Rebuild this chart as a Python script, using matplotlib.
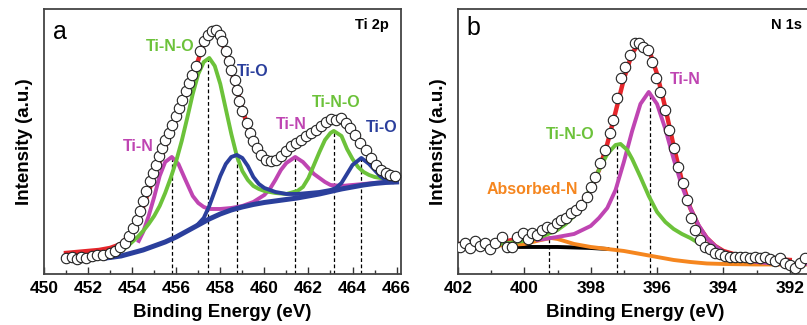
import matplotlib.pyplot as plt
from matplotlib.ticker import MultipleLocator

plt.rcParams['font.family'] = ['Liberation Sans', 'DejaVu Sans']

GREEN = '#6cc23a'
MAGENTA = '#bf45b2'
BLUE = '#2b3f9c'
RED = '#e6262b'
ORANGE = '#f5861f'

# ---- (a) Ti 2p : measured points ----
ti_data_e = [451.0, 451.26, 451.5, 451.7, 451.9, 452.2, 452.4, 452.7, 453.0, 453.2,
             453.45, 453.67, 453.87, 454.05, 454.2, 454.35, 454.5, 454.65, 454.8, 454.95,
             455.1, 455.2, 455.37, 455.5, 455.67, 455.8, 455.98, 456.13, 456.28, 456.43,
             456.58, 456.73, 456.9, 457.06, 457.24, 457.44, 457.64, 457.8, 457.97, 458.1,
             458.25, 458.4, 458.5, 458.65, 458.76, 458.87, 459.0, 459.2, 459.36, 459.5,
             459.65, 459.85, 460.08, 460.3, 460.53, 460.75, 461.0, 461.2, 461.44, 461.67,
             461.9, 462.1, 462.35, 462.58, 462.8, 463.03, 463.25, 463.48, 463.7, 463.9,
             464.1, 464.35, 464.6, 464.82, 465.05, 465.27, 465.5, 465.72, 465.95]
ti_data_h = [16, 17, 15, 17, 16, 18, 19, 19, 21, 23,
             27, 31, 38, 46, 54, 63, 73, 83, 93, 101,
             109, 118, 126, 134, 141, 149, 158, 166, 174, 183,
             191, 199, 208, 223, 233, 239, 243, 244, 239, 233,
             223, 213, 204, 194, 184, 173, 163, 151, 141, 133,
             126, 119, 114, 113, 114, 118, 123, 128, 131, 134,
             138, 141, 144, 148, 152, 155, 154, 156, 151, 146,
             139, 131, 124, 116, 109, 104, 101, 99, 98]

# envelope of the fit
ti_fit_e = [451.0, 451.5, 452.0, 452.5, 453.0, 453.5, 454.0, 454.5, 455.0, 455.5,
            456.0, 456.5, 457.0, 457.25, 457.5, 457.75, 458.0, 458.25, 458.5, 458.75,
            459.0, 459.25, 459.5, 459.75, 460.0, 460.25, 460.5, 460.75, 461.0, 461.5,
            462.0, 462.5, 463.0, 463.25, 463.5, 463.75, 464.0, 464.5, 465.0, 465.5, 466.0]
ti_fit_h = [21, 22, 23, 24, 26, 30, 42, 67, 98, 127,
            155, 183, 214, 232, 241, 243, 236, 222, 204, 185,
            165, 147, 133, 122, 116, 113, 114, 118, 123, 131,
            139, 146, 153, 155, 155, 150, 143, 128, 111, 101, 97]

# Shirley background
ti_bg_e = [452.8, 453.0, 453.5, 454.0, 454.5, 455.0, 455.5, 456.0, 456.5, 457.0,
           457.5, 458.0, 458.5, 459.0, 459.5, 460.0, 460.5, 461.0, 461.5, 462.0,
           462.5, 463.0, 463.5, 464.0, 464.5, 465.0, 465.5, 466.0]
ti_bg_h = [16, 16.5, 18, 21, 24, 28, 32, 37, 43, 49,
           55, 60, 64, 67, 69.5, 71.5, 73, 74.5, 76, 78,
           80, 82.5, 85, 87, 89, 90.5, 91.5, 92]

# Ti-N component (2p3/2 + 2p1/2)
ti_n_e = [454.3, 454.5, 454.75, 455.0, 455.25, 455.5, 455.8, 456.1, 456.4, 456.75,
          457.0, 457.25, 457.5, 458.0, 458.5, 459.0, 459.5, 460.0, 460.25, 460.5,
          460.75, 461.0, 461.4, 461.75, 462.0, 462.25, 462.5, 462.75, 463.0, 463.5,
          464.0, 464.5, 465.0, 465.5, 465.9]
ti_n_h = [33, 42, 58, 77, 98, 112, 117, 110, 95, 78,
          71, 67, 65, 65, 66, 68, 72, 79, 85, 94,
          104, 111, 117, 112, 106, 100, 96, 92, 89, 88,
          89, 90, 91, 92, 92]

# Ti-N-O component
ti_no_e = [452.85, 453.25, 453.5, 453.75, 454.0, 454.25, 454.5, 454.75, 455.0, 455.25,
           455.5, 455.75, 456.0, 456.25, 456.5, 456.75, 457.0, 457.25, 457.5, 457.75,
           458.0, 458.25, 458.5, 458.75, 459.0, 459.25, 459.5, 459.75, 460.0, 460.5,
           461.0, 461.5, 461.75, 462.0, 462.25, 462.5, 462.75, 463.0, 463.15, 463.5,
           463.75, 464.0, 464.25, 464.5, 464.75, 465.0, 465.5, 465.8]
ti_no_h = [18, 20, 23, 27, 32, 37, 43, 50, 58, 68,
           81, 96, 113, 133, 156, 180, 200, 212, 216, 208,
           190, 165, 140, 118, 103, 94, 88, 85, 83, 81,
           80, 83, 87, 96, 109, 122, 134, 141, 143, 138,
           125, 115, 107, 102, 99, 97, 95, 94]

# Ti-O component
ti_o_e = [457.0, 457.25, 457.5, 457.75, 458.0, 458.25, 458.5, 458.75, 459.0, 459.25,
          459.5, 459.75, 460.0, 460.5, 461.0, 461.5, 462.0, 462.5, 463.0, 463.25,
          463.5, 463.75, 464.0, 464.4, 464.75, 465.0, 465.25, 465.5, 465.8]
ti_o_h = [50, 56, 68, 83, 98, 110, 117, 119, 116, 108,
          97, 90, 86, 82, 80, 80, 81, 82, 84, 86,
          91, 100, 109, 116, 110, 104, 98, 94, 92]

ti_peak_e = [455.8, 457.45, 458.75, 461.4, 463.15, 464.4]
ti_peak_h = [117, 216, 119, 117, 143, 116]

# ---- (b) N 1s ----
n_data_e = [401.94, 401.79, 401.64, 401.49, 401.34, 401.19, 401.04, 400.89, 400.68, 400.53,
            400.38, 400.23, 400.03, 399.88, 399.78, 399.63, 399.48, 399.33, 399.18, 399.03,
            398.88, 398.73, 398.58, 398.43, 398.28, 398.12, 398.0, 397.87, 397.72, 397.57,
            397.42, 397.32, 397.22, 397.1, 396.97, 396.82, 396.67, 396.54, 396.42, 396.27,
            396.14, 396.02, 395.9, 395.77, 395.63, 395.49, 395.36, 395.23, 395.11, 394.99,
            394.86, 394.71, 394.56, 394.41, 394.26, 394.11, 393.96, 393.81, 393.66, 393.51,
            393.36, 393.2, 393.05, 392.9, 392.75, 392.6, 392.45, 392.3, 392.15, 392.0,
            391.85, 391.7, 391.55]
n_data_h = [27, 31, 26, 33, 28, 31, 25, 31, 37, 27,
            27, 37, 41, 35, 41, 39, 44, 47, 46, 51,
            54, 56, 61, 64, 69, 77, 87, 97, 111, 124,
            141, 154, 176, 196, 207, 219, 231, 231, 227, 224,
            212, 196, 182, 164, 144, 126, 107, 91, 74, 56,
            44, 34, 27, 25, 21, 20, 18, 17, 17, 17,
            17, 16, 17, 16, 17, 15, 13, 16, 11, 9,
            6, 11, 16]

n_fit_e = [402.0, 401.0, 400.5, 400.0, 399.5, 399.0, 398.5, 398.25, 398.0, 397.75,
           397.5, 397.25, 397.0, 396.75, 396.5, 396.25, 396.0, 395.75, 395.5, 395.25,
           395.0, 394.75, 394.5, 394.25, 394.0, 393.5, 393.0, 392.5, 392.0]
n_fit_h = [30, 31, 33, 37, 42, 50, 62, 71, 84, 104,
           130, 162, 195, 221, 232, 225, 200, 166, 128, 93,
           66, 48, 36, 28, 23, 18, 16, 15, 14]

n_bg_e = [400.3, 400.0, 399.5, 399.0, 398.5, 398.0, 397.5]
n_bg_h = [27, 27, 27, 27, 26.5, 26, 25]

# absorbed N
n_abs_e = [402.0, 401.0, 400.0, 399.5, 399.2, 399.0, 398.5, 398.0, 397.5, 397.0,
           396.5, 396.0, 395.5, 395.0, 394.5, 394.0, 393.0, 392.0, 391.5]
n_abs_h = [28, 28, 30, 34, 36, 35, 30, 27, 25, 23,
           20, 17, 14, 12, 10.5, 10, 9.5, 9.5, 9.5]

# Ti-N-O
n_tino_e = [402.0, 401.0, 400.5, 400.0, 399.5, 399.0, 398.75, 398.5, 398.25, 398.0,
            397.75, 397.5, 397.25, 397.1, 396.9, 396.75, 396.5, 396.25, 396.0, 395.75,
            395.5, 395.25, 395.0, 394.75, 394.5, 394.25, 394.0]
n_tino_h = [28, 29, 31, 33, 37, 44, 50, 58, 70, 86,
            104, 120, 129, 130, 124, 115, 97, 78, 62, 52,
            45, 40, 36, 31, 27, 24, 21]

# Ti-N
n_tin_e = [399.6, 399.0, 398.5, 398.0, 397.75, 397.5, 397.25, 397.0, 396.75, 396.5,
           396.25, 396.0, 395.75, 395.5, 395.25, 395.0, 394.75, 394.5, 394.25, 394.0,
           393.75, 393.5, 393.0, 392.5, 392.0, 391.5]
n_tin_h = [34, 37, 40, 48, 56, 66, 84, 112, 143, 170,
           182, 170, 145, 115, 88, 66, 49, 36, 28, 22,
           18, 15, 12, 10.5, 10, 10]

n_peak_e = [399.25, 397.2, 396.2]
n_peak_h = [36, 130, 182]


def style_axes(ax, xlim, ticks):
    ax.set_xlim(*xlim)
    ax.set_ylim(0, 265)
    ax.set_xticks(ticks)
    ax.xaxis.set_minor_locator(MultipleLocator(1))
    ax.set_yticks([])
    ax.tick_params(axis='x', which='major', direction='in', length=5, width=1,
                   labelsize=12.5, pad=5, colors='#333333', labelcolor='black')
    ax.tick_params(axis='x', which='minor', direction='in', length=3, width=1,
                   colors='#333333')
    for lab in ax.get_xticklabels():
        lab.set_fontweight('bold')
    for sp in ax.spines.values():
        sp.set_color('#444444')
        sp.set_linewidth(1.3)
    ax.set_xlabel('Binding Energy (eV)', fontsize=13.5, fontweight='bold', labelpad=6)
    ax.set_ylabel('Intensity (a.u.)', fontsize=13.5, fontweight='bold', labelpad=8)


fig = plt.figure(figsize=(8.07, 3.25), dpi=100)
ax_a = fig.add_axes([0.0545, 0.157, 0.4424, 0.8154])
ax_b = fig.add_axes([0.5675, 0.157, 0.4399, 0.8154])

lw = 2.8
mk = dict(marker='o', ms=7.5, mfc='white', mec='#222222', mew=0.8, ls='none', zorder=6)

# panel a
ax_a.vlines(ti_peak_e, 0, ti_peak_h, colors='black', linestyles=(0, (3, 2)), lw=0.9, zorder=1)
ax_a.plot(ti_fit_e, ti_fit_h, color=RED, lw=lw + 0.4, zorder=2)
ax_a.plot(ti_n_e, ti_n_h, color=MAGENTA, lw=lw, zorder=3)
ax_a.plot(ti_no_e, ti_no_h, color=GREEN, lw=lw, zorder=4)
ax_a.plot(ti_o_e, ti_o_h, color=BLUE, lw=lw, zorder=5)
ax_a.plot(ti_bg_e, ti_bg_h, color=BLUE, lw=lw + 0.8, zorder=5)
ax_a.plot(ti_data_e, ti_data_h, **mk)
style_axes(ax_a, (450, 466.2), range(450, 467, 2))

ax_a.text(450.73, 242, 'a', fontsize=18, ha='center', va='center')
ax_a.text(464.9, 249, 'Ti 2p', fontsize=10.5, fontweight='bold', ha='center', va='center')
txt = dict(fontsize=11.5, fontweight='bold', ha='center', va='center')
ax_a.text(455.71, 227, 'Ti-N-O', color=GREEN, **txt)
ax_a.text(459.46, 202, 'Ti-O', color=BLUE, **txt)
ax_a.text(454.26, 127, 'Ti-N', color=MAGENTA, **txt)
ax_a.text(461.23, 149, 'Ti-N', color=MAGENTA, **txt)
ax_a.text(463.26, 171, 'Ti-N-O', color=GREEN, **txt)
ax_a.text(465.34, 146, 'Ti-O', color=BLUE, **txt)

# panel b
ax_b.vlines(n_peak_e, 0, n_peak_h, colors='black', linestyles=(0, (3, 2)), lw=0.9, zorder=1)
ax_b.plot(n_fit_e, n_fit_h, color=RED, lw=lw + 0.4, zorder=2)
ax_b.plot(n_bg_e, n_bg_h, color='black', lw=lw, zorder=3)
ax_b.plot(n_abs_e, n_abs_h, color=ORANGE, lw=lw, zorder=3)
ax_b.plot(n_tin_e, n_tin_h, color=MAGENTA, lw=lw, zorder=4)
ax_b.plot(n_tino_e, n_tino_h, color=GREEN, lw=lw, zorder=5)
ax_b.plot(n_data_e, n_data_h, **mk)
style_axes(ax_b, (402, 391.3), range(402, 391, -2))

ax_b.text(401.55, 246, 'b', fontsize=18, ha='center', va='center')
ax_b.text(392.09, 249, 'N 1s', fontsize=10.5, fontweight='bold', ha='center', va='center')
ax_b.text(395.16, 194, 'Ti-N', color=MAGENTA, **txt)
ax_b.text(398.63, 139, 'Ti-N-O', color=GREEN, **txt)
ax_b.text(399.77, 84, 'Absorbed-N', color=ORANGE, **txt)

fig.savefig('out.png', dpi=100)
